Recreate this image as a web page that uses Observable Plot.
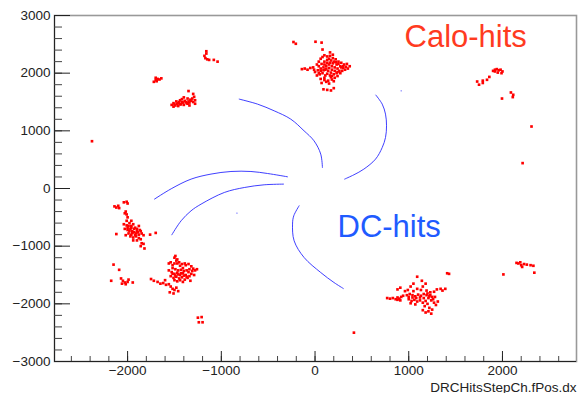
<!DOCTYPE html>
<html><head><meta charset="utf-8">
<script src="https://cdn.jsdelivr.net/npm/d3@7"></script>
<script src="https://cdn.jsdelivr.net/npm/@observablehq/plot@0.6"></script>
<style>html,body{margin:0;padding:0;background:#fff}#chart svg{display:block}</style>
</head><body><div id="chart"></div>
<script>
const xDomain = [-2780, 2790];
const yDomain = [-3000, 3000];
const xMajorTicks = [-2000, -1000, 0, 1000, 2000];
const yMajorTicks = [-3000, -2000, -1000, 0, 1000, 2000, 3000];
const xMinorTicks = [-2600,-2400,-2200,-2000,-1800,-1600,-1400,-1200,-1000,-800,-600,-400,-200,0,200,400,600,800,1000,1200,1400,1600,1800,2000,2200,2400,2600];
const yMinorTicks = [-2800,-2600,-2400,-2200,-2000,-1800,-1600,-1400,-1200,-1000,-800,-600,-400,-200,0,200,400,600,800,1000,1200,1400,1600,1800,2000,2200,2400,2600,2800];
const xTitle = "DRCHitsStepCh.fPos.dx";
const caloLabel = "Calo-hits";
const dcLabel = "DC-hits";

// Calorimeter hits (x, y), grouped by cluster
const caloTop = [[-230,2540],[-205,2510],[5,2545],[70,2530],[80,2410],
  [-140,2070],[-110,2080],[-80,2060],[-50,2090],[-20,2100],
  [20,2150],[40,2200],[60,2250],[80,2280],[100,2310],[130,2290],[160,2300],[190,2260],[220,2240],[250,2200],[280,2180],[310,2150],[340,2160],[370,2120],[350,2080],[320,2060],[290,2040],
  [0,2020],[30,2050],[60,2080],[90,2100],[120,2130],[150,2150],[180,2120],[210,2100],[240,2080],[260,2040],[230,2000],[200,1980],[170,2010],[140,2040],[110,2060],[80,2000],[50,1980],[20,1960],
  [60,1900],[100,1880],[140,1870],[180,1890],[200,1860],[70,1830],[150,1820],
  [90,1720],[130,1710],[170,1700],[200,1740],
  [100,2200],[130,2230],[160,2180],[200,2200],[230,2150],[270,2120],[110,1960],[180,1950],[240,1950],
  [40,2120],[70,2160],[100,2150],[130,2180],[170,2220],[190,2170],[220,2190],[250,2160],[280,2100],[300,2090],[330,2110],[60,2040],[90,2050],[120,2080],[150,2090],[180,2060],[210,2040],[240,2020],[270,2000],[130,1990],[160,1960],[100,1920],[120,1850],[170,1930],[210,1920],[-10,2060],[40,2000],[150,2250],[190,2320],[160,2360],[300,2120]];
const caloUpperLeft = [[-1530,1450],[-1510,1480],[-1490,1440],[-1470,1470],[-1450,1500],[-1430,1460],[-1410,1490],[-1390,1520],[-1370,1480],[-1350,1510],[-1330,1540],[-1310,1560],[-1290,1590],[-1280,1530],[-1300,1500],[-1420,1550],[-1400,1580],[-1440,1530],[-1480,1510],[-1360,1560],[-1340,1440],[-1460,1430],[-1280,1470],[-1350,1690],[-1300,1640],[-1510,1420],
  [-1500,1460],[-1460,1480],[-1420,1500],[-1380,1500],[-1340,1490],[-1320,1520],[-1400,1450],[-1440,1460],[-1360,1470],
  [-1720,1850],[-1700,1880],[-1680,1900],[-1660,1890],[-1640,1910],[-1700,1920],[-1690,1860],
  [-1180,2300],[-1160,2340],[-1170,2260],[-1150,2240],[-1130,2230],[-1080,2230],[-1040,2200],[-1160,2380],
  [-2380,820]];
const caloLeft = [[-2140,-310],[-2120,-330],[-2100,-300],[-2090,-340],[-2040,-240],[-2010,-230],[-2000,-260],
  [-2020,-400],[-2010,-450],[-2000,-500],[-2030,-430],
  [-2040,-620],[-2010,-640],[-1980,-600],[-1960,-650],[-1940,-620],[-1920,-680],[-1900,-700],[-1880,-650],[-1870,-720],[-2030,-700],[-2000,-720],[-1970,-700],[-1950,-740],[-1930,-760],[-1910,-780],[-1880,-800],[-1850,-780],[-1830,-810],[-1990,-780],[-1960,-800],[-2020,-810],[-1940,-850],[-1880,-860],[-1850,-950],[-1830,-960],[-1860,-1000],[-1820,-1040],[-2120,-790],[-1700,-770],[-1760,-800],
  [-1990,-650],[-1960,-680],[-1930,-700],[-1900,-740],[-1980,-740],[-1950,-770],[-1920,-810],[-1890,-760],[-1860,-740],[-2000,-680],[-1970,-830],[-1910,-830],[-1860,-880],[-1900,-900],[-1940,-900],[-2010,-560],[-1960,-560],
  [-2150,-1320],[-2090,-1410],[-2175,-1600],[-2070,-1560],[-2050,-1600],[-2030,-1630],[-2000,-1620],[-1990,-1580],[-2060,-1650],[-2020,-1660],[-1945,-1630]];
const caloLowerLeft = [[-1490,-1170],[-1560,-1300],[-1540,-1280],[-1520,-1330],[-1480,-1250],[-1470,-1300],[-1440,-1340],[-1410,-1380],[-1380,-1330],[-1350,-1310],[-1320,-1350],[-1300,-1390],[-1280,-1420],[-1260,-1400],[-1560,-1420],[-1530,-1450],[-1500,-1480],[-1470,-1460],[-1440,-1500],[-1410,-1470],[-1380,-1500],[-1350,-1450],[-1320,-1480],[-1540,-1520],[-1510,-1550],[-1480,-1530],[-1450,-1560],[-1420,-1540],[-1390,-1580],[-1360,-1550],[-1330,-1600],[-1750,-1570],[-1720,-1600],[-1680,-1620],[-1650,-1650],[-1620,-1640],[-1590,-1670],[-1560,-1660],[-1540,-1700],[-1520,-1740],[-1500,-1760],[-1480,-1720],[-1550,-1800],[-1510,-1820],[-1460,-1780],[-1600,-1590],[-1290,-1500],
  [-1500,-1300],[-1450,-1280],[-1420,-1310],[-1390,-1300],[-1520,-1380],[-1490,-1400],[-1460,-1420],[-1430,-1410],[-1400,-1430],[-1370,-1420],[-1340,-1400],[-1310,-1430],[-1520,-1480],[-1490,-1510],[-1460,-1490],[-1430,-1470],[-1400,-1510],[-1370,-1530],[-1340,-1520],[-1500,-1590],[-1470,-1610],[-1440,-1590],[-1410,-1620],[-1500,-1200],[-1470,-1230],
  [-1250,-2240],[-1210,-2230],[-1240,-2320],[-1200,-2320]];
const caloLowerRight = [[770,-1900],[800,-1910],[830,-1900],[860,-1920],[880,-1890],[900,-1910],[920,-1880],[910,-1940],[880,-1930],[940,-1860],
  [880,-1750],[910,-1720],[960,-1780],[990,-1760],[1020,-1700],[1050,-1650],[1090,-1530],[1140,-1600],[1150,-1700],[1180,-1650],
  [980,-1850],[1010,-1830],[1040,-1850],[1070,-1870],[1100,-1840],[1130,-1860],[1160,-1830],[1190,-1850],[1220,-1870],[1250,-1880],
  [1000,-1920],[1030,-1950],[1060,-1930],[1090,-1960],[1120,-1940],[1150,-1980],[1180,-1950],[1210,-1900],[1240,-1940],[1270,-1980],[1290,-2020],[1310,-1960],
  [1150,-2110],[1180,-2150],[1210,-2130],[1240,-2170],[1300,-1750],[1340,-1740],[1360,-1770],[1410,-1470],[1430,-1480],
  [1000,-1880],[1040,-1890],[1080,-1900],[1120,-1890],[1160,-1900],[1200,-1820],[1230,-1800],[1270,-1790],[1050,-1780],[1090,-1740],[1130,-1760],[1190,-1770],[1230,-1850],[1280,-1880],[1260,-1920],[1200,-2000],[1170,-2040],[1220,-2070],[1250,-2100],[1390,-1740],[1020,-1990],[1070,-2010],
  [415,-2500]];
const caloRight = [[1900,2040],[1920,2060],[1940,2070],[1960,2050],[1980,2060],[2000,2030],[1950,2010],[1990,2000],[1920,2030],
  [1730,1855],[1750,1800],[1790,1870],[1790,1830],[1835,1885],[1860,1935],
  [1995,1560],[2090,1665],[2115,1625],[2110,1585],[2310,1075],[2215,440],
  [2150,-1290],[2170,-1300],[2190,-1280],[2200,-1330],[2230,-1310],[2260,-1320],[2300,-1330],[2330,-1340],[2210,-1360],[2010,-1490],[2340,-1460]];

// Drift-chamber hits: points along each track arc
const arcA = [[-809,1550],[-613,1463],[-436,1347],[-259,1203],[-117,1000],[-11,827],[61,596],[79,364]];
const arcB = [[649,1620],[717,1463],[752,1290],[763,1087],[752,884],[717,711],[646,510],[521,336],[415,238],[316,163]];
const arcC = [[-1713,-184],[-1535,-5],[-1322,163],[-1110,250],[-897,295],[-684,295],[-506,260],[-294,203]];
const arcD = [[-1528,-803],[-1429,-560],[-1323,-387],[-1216,-271],[-968,-69],[-755,17],[-543,64],[-336,76]];
const arcE = [[-170,-300],[-227,-474],[-240,-617],[-223,-907],[-117,-1196],[61,-1457],[202,-1630],[302,-1734]];
const dcStray = [[919,1694],[-833,-427]];

const calo = [caloTop, caloUpperLeft, caloLeft, caloLowerLeft, caloLowerRight, caloRight].flat();
const arcs = [arcA, arcB, arcC, arcD, arcE].flatMap((a, i) => a.map(([x, y]) => ({x, y, id: i})));
const fmt = d => d < 0 ? "\u2212" + Math.abs(d) : String(d);

const plot = Plot.plot({
  width: 578, height: 393,
  marginLeft: 54, marginRight: 2, marginTop: 15, marginBottom: 32,
  style: {fontFamily: "'Liberation Sans', Arial, sans-serif", fontSize: "13.5px", background: "#fff", color: "#222"},
  x: {domain: xDomain},
  y: {domain: yDomain},
  marks: [
    Plot.frame({stroke: "#999", strokeWidth: 1.6}),
    Plot.ruleX([xDomain[0]], {stroke: "#222", strokeWidth: 1}),
    Plot.ruleY([yDomain[0]], {stroke: "#222", strokeWidth: 1}),
    Plot.axisY(yMinorTicks, {tickSize: -8, tickFormat: () => "", label: null, stroke: "#444"}),
    Plot.axisY(yMajorTicks, {tickSize: -16, tickFormat: () => "", label: null, stroke: "#222"}),
    Plot.axisY(yMajorTicks, {tickSize: 0, tickPadding: 4, tickFormat: fmt, label: null, fontSize: 13.5, fill: "#222"}),
    Plot.axisX(xMinorTicks, {tickSize: -5, tickFormat: () => "", label: null, stroke: "#444"}),
    Plot.axisX(xMajorTicks, {tickSize: -10, tickFormat: () => "", label: null, stroke: "#222"}),
    Plot.axisX(xMajorTicks, {tickSize: 0, tickPadding: 4, tickFormat: fmt, label: null, fontSize: 13.5, fill: "#222"}),
    Plot.line(arcs, {x: "x", y: "y", z: "id", curve: "catmull-rom", stroke: "#2a2aff", strokeWidth: 0.9}),
    Plot.dot(dcStray, {x: d => d[0], y: d => d[1], r: 0.6, fill: "#4040ff", stroke: null}),
    Plot.dot(calo, {x: d => d[0], y: d => d[1], symbol: "square", r: 1.5, fill: "#ff0000", stroke: null}),
    Plot.text([caloLabel], {frameAnchor: "top-left", dx: 350, dy: 31, lineAnchor: "bottom", textAnchor: "start", fontSize: 31, fill: "#ff3b1f"}),
    Plot.text([dcLabel], {frameAnchor: "top-left", dx: 283, dy: 221, lineAnchor: "bottom", textAnchor: "start", fontSize: 31, fill: "#1f5bff"}),
    Plot.text([xTitle], {frameAnchor: "bottom-right", dx: 0, dy: 30, lineAnchor: "bottom", textAnchor: "end", fontSize: 13.5, fill: "#222"})
  ]
});
document.getElementById("chart").append(plot);
</script>
</body></html>
